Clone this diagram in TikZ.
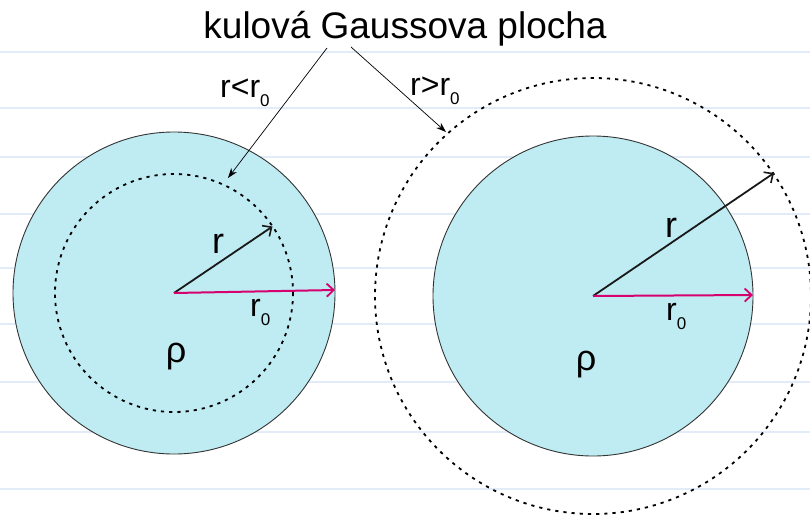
\documentclass[tikz,border=0pt]{standalone}
\usepackage{fontspec}
\setmainfont{Liberation Sans}
\usetikzlibrary{arrows.meta}
\definecolor{fillc}{RGB}{191,235,242}
\definecolor{redc}{RGB}{214,0,110}
\definecolor{linec}{RGB}{225,236,248}
\newcommand\subzero{\raisebox{-0.3em}{\fontsize{17}{17}\selectfont 0}}
\begin{document}
\begin{tikzpicture}[x=1pt,y=-1pt,
  bgline/.style={draw=linec,line width=1.3pt},
  sphere/.style={draw=black!80,line width=0.9pt,fill=fillc},
  gauss/.style={draw=black,line width=1.8pt,dash pattern=on 3.2pt off 5pt},
  leader/.style={draw=black,line width=0.7pt,-{Stealth[length=10pt,width=7pt]}},
  rarrow/.style={draw=black!90,line width=1.8pt,-{Straight Barb[length=7pt,width=13pt,line width=1.6pt]}},
  r0arrow/.style={draw=redc,line width=2pt,-{Straight Barb[length=7pt,width=13pt,line width=1.8pt]}},
  lbl/.style={inner sep=0pt,anchor=base west,font=\fontsize{32}{36}\selectfont},
  big/.style={inner sep=0pt,anchor=base,font=\fontsize{36}{40}\selectfont}]
\useasboundingbox (0,0) rectangle (810,522);
\fill[white] (0,0) rectangle (810,522);
% background ruling
\foreach \yy in {52,108,157,214,268,324,382,432,489}
  \draw[bgline] (0,\yy) -- (810,\yy);
% centres
\coordinate (c1) at (174,293);
\coordinate (c2) at (593,296);
% spheres
\draw[sphere] (c1) circle (161);
\draw[sphere] (c2) circle (160);
% gaussian surfaces
\draw[gauss] (c1) circle (119);
\draw[gauss] (c2) circle (218);
% arrow tips
\coordinate (t1r) at (272.5,226.5);
\coordinate (t1r0) at (335,290);
\coordinate (t2r) at (774,173);
\coordinate (t2r0) at (753,295);
\draw[rarrow] (c1) -- (t1r);
\draw[r0arrow] (c1) -- (t1r0);
\draw[rarrow] (c2) -- (t2r);
\draw[r0arrow] (c2) -- (t2r0);
% title and leaders
\node[inner sep=0pt,anchor=base,font=\fontsize{37}{42}\selectfont] (title) at (405,38) {kulová Gaussova plocha};
\coordinate (s1) at (327,48);
\coordinate (s2) at (351,47);
\coordinate (g1) at (228,178);
\coordinate (g2) at (446,132);
\draw[leader] (s1) -- (g1);
\draw[leader] (s2) -- (g2);
% labels
\node[lbl] (lin) at (220,97) {r<r\subzero};
\node[lbl] (lout) at (410,95) {r>r\subzero};
\node[big] (r1) at (218,253) {r};
\node[lbl] (r01) at (250,316) {r\subzero};
\node[big] (rho1) at (176,362) {ρ};
\node[big] (r2) at (671,237) {r};
\node[lbl] (r02) at (666,320) {r\subzero};
\node[big] (rho2) at (586,370) {ρ};
\end{tikzpicture}
\end{document}
